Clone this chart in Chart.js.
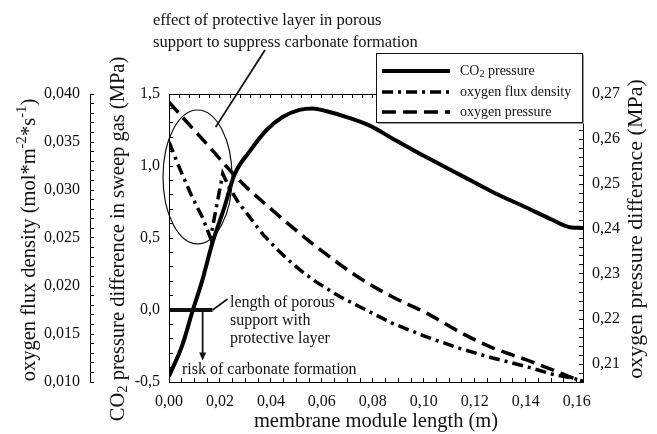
<!DOCTYPE html>
<html>
<head>
    <meta charset="utf-8" />
    <title>Membrane module profiles</title>
    <script src="https://cdn.jsdelivr.net/npm/chart.js"></script>
    <style>
        html, body { margin: 0; padding: 0; background: #fff; }
    </style>
</head>
<body>
    <canvas id="chart" width="657" height="434"></canvas>

    <script>
        // CO2 pressure difference in sweep gas (MPa) along the module
        const co2X = [0, 0.0053, 0.0092, 0.0128, 0.0171, 0.0215, 0.0257, 0.0316, 0.0383, 0.0446, 0.0512, 0.0564,
                      0.0619, 0.0697, 0.0788, 0.0878, 0.1011, 0.1141, 0.1270, 0.1404, 0.1506, 0.1573, 0.1625];
        const co2Y = [-0.46, -0.24, -0.01, 0.19, 0.47, 0.70, 0.94, 1.10, 1.25, 1.34, 1.39, 1.40,
                      1.38, 1.34, 1.28, 1.19, 1.06, 0.94, 0.82, 0.71, 0.625, 0.575, 0.57];

        // oxygen flux density (mol*m^-2*s^-1)
        const fluxX = [0, 0.0041, 0.0092, 0.0132, 0.0163, 0.0211, 0.0238, 0.0270, 0.0316, 0.0368, 0.0421, 0.0473,
                       0.0513, 0.0579, 0.0670, 0.0788, 0.0878, 0.1011, 0.1141, 0.1270, 0.1404, 0.1506, 0.1585, 0.1625];
        const fluxY = [0.0350, 0.0323, 0.0292, 0.0271, 0.0250, 0.0317, 0.0302, 0.0288, 0.0272, 0.0254, 0.0239, 0.0226,
                       0.0217, 0.0204, 0.0189, 0.0173, 0.0161, 0.0147, 0.0135, 0.0125, 0.0116, 0.0108, 0.0104, 0.0101];

        // oxygen pressure difference (MPa)
        const o2X = [0, 0.0092, 0.0159, 0.0238, 0.0304, 0.0383, 0.0473, 0.0564, 0.0748, 0.0878, 0.1011,
                     0.1141, 0.1270, 0.1404, 0.1506, 0.1585, 0.1625];
        const o2Y = [0.2682, 0.2624, 0.2582, 0.2531, 0.2493, 0.2453, 0.2409, 0.2367, 0.2291, 0.2249, 0.2213,
                     0.2171, 0.2136, 0.2109, 0.2087, 0.2069, 0.2062];

        // length of the porous support with protective layer (m)
        const layerLength = 0.0171;

        const serif = '"Liberation Serif", "Times New Roman", serif';
        const ink = '#111';

        function isMajor(v, step) {
            return Math.abs(v / step - Math.round(v / step)) < 1e-6;
        }
        function comma(v, d) {
            return v.toFixed(d).replace('.', ',');
        }
        function pts(xs, ys) {
            return xs.map((x, i) => ({x: x, y: ys[i]}));
        }

        // text with sub/superscript pieces
        function drawRich(ctx, parts, x, y, size, align) {
            let w = 0;
            parts.forEach(p => {
                ctx.font = (p.s ? size * 0.72 : size) + 'px ' + serif;
                p.w = ctx.measureText(p.t).width;
                w += p.w;
            });
            let cx = align === 'center' ? x - w / 2 : x;
            parts.forEach(p => {
                ctx.font = (p.s ? size * 0.72 : size) + 'px ' + serif;
                const dy = p.s === 'sup' ? -size * 0.38 : p.s === 'sub' ? size * 0.22 : 0;
                ctx.fillText(p.t, cx, y + dy);
                cx += p.w;
            });
        }
        function vTitle(ctx, parts, cx, cy, size) {
            ctx.save();
            ctx.translate(cx, cy);
            ctx.rotate(-Math.PI / 2);
            ctx.textBaseline = 'middle';
            drawRich(ctx, parts, 0, 0, size, 'center');
            ctx.restore();
        }

        const tickFont = {family: serif, size: 16};

        // titles, legend and the annotations of the figure
        const decorations = {
            id: 'decorations',
            afterDraw(chart) {
                const ctx = chart.ctx;
                const sx = chart.scales.x, sy = chart.scales.yCO2;
                ctx.save();
                ctx.fillStyle = ink;
                ctx.strokeStyle = ink;

                vTitle(ctx, [{t: 'oxygen flux density (mol*m'}, {t: '-2', s: 'sup'}, {t: '*s'}, {t: '-1', s: 'sup'}, {t: ')'}], 30, 240, 20.5);
                vTitle(ctx, [{t: 'CO'}, {t: '2', s: 'sub'}, {t: ' pressure difference in sweep gas (MPa)'}], 119, 239, 20.5);
                vTitle(ctx, [{t: 'oxygen pressure difference (MPa)'}], 636, 229, 22);

                // ellipse round the effect zone
                const ex = sx.getPixelForValue(0.0112), ey = sy.getPixelForValue(0.924);
                const rx = sx.getPixelForValue(0.0112 + 0.01355) - ex;
                const ry = ey - sy.getPixelForValue(0.924 + 0.465);
                ctx.lineWidth = 1.2;
                ctx.beginPath();
                ctx.ellipse(ex, ey, rx, ry, 0, 0, Math.PI * 2);
                ctx.stroke();

                // leader to the upper note
                ctx.lineWidth = 1.8;
                ctx.beginPath();
                ctx.moveTo(sx.getPixelForValue(0.0183), sy.getPixelForValue(1.27));
                ctx.lineTo(265, 50);
                ctx.stroke();

                // protective layer bar at zero
                const y0 = sy.getPixelForValue(0);
                const xe = sx.getPixelForValue(layerLength);
                ctx.lineWidth = 4;
                ctx.beginPath();
                ctx.moveTo(sx.getPixelForValue(0), y0);
                ctx.lineTo(xe, y0);
                ctx.stroke();
                ctx.lineWidth = 1.6;
                ctx.beginPath();
                ctx.moveTo(xe, y0);
                ctx.lineTo(xe + 15, y0 - 11);
                ctx.stroke();

                // arrow down to the risk note
                const ax = sx.getPixelForValue(0.0132);
                const ay = sy.getPixelForValue(-0.35);
                ctx.lineWidth = 1.8;
                ctx.beginPath();
                ctx.moveTo(ax, y0);
                ctx.lineTo(ax, ay - 6);
                ctx.stroke();
                ctx.beginPath();
                ctx.moveTo(ax - 3.5, ay - 8);
                ctx.lineTo(ax + 3.5, ay - 8);
                ctx.lineTo(ax, ay);
                ctx.closePath();
                ctx.fill();

                ctx.textBaseline = 'alphabetic';
                ctx.textAlign = 'left';
                ctx.font = '16.5px ' + serif;
                ctx.fillText('effect of protective layer in porous', 153, 25);
                ctx.fillText('support to suppress carbonate formation', 153, 47);
                ctx.font = '16px ' + serif;
                ctx.fillText('length of porous', 230, 307);
                ctx.fillText('support with', 230, 325);
                ctx.fillText('protective layer', 230, 343);
                ctx.fillText('risk of carbonate formation', 182, 374);

                // legend box
                const lx = 376, ly = 53, lw = 206, lh = 69;
                ctx.fillStyle = '#9a9a9a';
                ctx.fillRect(lx + 2, ly + 2, lw, lh);
                ctx.fillStyle = '#fff';
                ctx.fillRect(lx, ly, lw, lh);
                ctx.lineWidth = 1;
                ctx.strokeStyle = ink;
                ctx.strokeRect(lx + 0.5, ly + 0.5, lw, lh);

                const rows = [71, 92, 112];
                chart.data.datasets.forEach((ds, i) => {
                    ctx.save();
                    ctx.lineWidth = ds.borderWidth;
                    ctx.strokeStyle = ds.borderColor;
                    ctx.setLineDash(ds.borderDash || []);
                    ctx.beginPath();
                    ctx.moveTo(382, rows[i]);
                    ctx.lineTo(450, rows[i]);
                    ctx.stroke();
                    ctx.restore();
                });
                ctx.fillStyle = ink;
                ctx.textBaseline = 'middle';
                drawRich(ctx, [{t: 'CO'}, {t: '2', s: 'sub'}, {t: ' pressure'}], 460, rows[0], 14, 'left');
                drawRich(ctx, [{t: 'oxygen flux density'}], 460, rows[1], 14, 'left');
                drawRich(ctx, [{t: 'oxygen pressure'}], 460, rows[2], 14, 'left');

                ctx.restore();
            }
        };

        const axisBorder = {display: true, color: '#000', width: 1};

        new Chart(document.getElementById('chart'), {
            type: 'line',
            data: {
                datasets: [
                    {
                        label: 'CO2 pressure',
                        data: pts(co2X, co2Y),
                        yAxisID: 'yCO2',
                        borderColor: '#000',
                        borderWidth: 4,
                        cubicInterpolationMode: 'monotone',
                        pointRadius: 0
                    },
                    {
                        label: 'oxygen flux density',
                        data: pts(fluxX, fluxY),
                        yAxisID: 'yFlux',
                        borderColor: '#000',
                        borderWidth: 3.5,
                        borderDash: [11, 5, 3, 5],
                        tension: 0,
                        pointRadius: 0
                    },
                    {
                        label: 'oxygen pressure',
                        data: pts(o2X, o2Y),
                        yAxisID: 'yO2',
                        borderColor: '#000',
                        borderWidth: 3.5,
                        borderDash: [14, 7],
                        cubicInterpolationMode: 'monotone',
                        pointRadius: 0
                    }
                ]
            },
            options: {
                responsive: false,
                animation: false,
                layout: {padding: {top: 94, left: 0, right: 0, bottom: 0}},
                plugins: {legend: {display: false}, tooltip: {enabled: false}},
                scales: {
                    x: {
                        type: 'linear', position: 'bottom', min: 0, max: 0.1625,
                        ticks: {
                            stepSize: 0.005, includeBounds: false, autoSkip: false, maxRotation: 0,
                            padding: 14, color: ink, font: tickFont,
                            callback: v => isMajor(v, 0.02) ? comma(v, 2) : ''
                        },
                        grid: {drawOnChartArea: false, tickLength: -4, color: '#000'},
                        border: axisBorder,
                        title: {display: true, text: 'membrane module length (m)', color: ink,
                                font: {family: serif, size: 20.5}, padding: 0},
                        afterFit: s => { s.height = 52; }
                    },
                    xTop: {
                        type: 'linear', position: 'top', min: 0, max: 0.1625,
                        ticks: {stepSize: 0.004, includeBounds: false, autoSkip: false, callback: () => ''},
                        grid: {drawOnChartArea: false, tickLength: -4, color: '#000'},
                        border: axisBorder,
                        afterFit: s => { s.height = 0; }
                    },
                    yFlux: {
                        type: 'linear', position: 'left', weight: 2, min: 0.010, max: 0.040,
                        ticks: {
                            stepSize: 0.001, autoSkip: false, padding: 14, color: ink, font: tickFont,
                            callback: v => isMajor(v, 0.005) ? comma(v, 3) : ''
                        },
                        grid: {drawOnChartArea: false, tickLength: -4, color: '#000'},
                        border: axisBorder,
                        afterFit: s => { s.width = 90; }
                    },
                    yCO2: {
                        type: 'linear', position: 'left', weight: 1, min: -0.5, max: 1.5,
                        ticks: {
                            stepSize: 0.1, autoSkip: false, padding: 13, color: ink, font: tickFont,
                            callback: v => isMajor(v, 0.5) ? comma(v, 1) : ''
                        },
                        grid: {drawOnChartArea: false, tickLength: -4, color: '#000'},
                        border: axisBorder,
                        afterFit: s => { s.width = 79; }
                    },
                    yO2: {
                        type: 'linear', position: 'right', min: 0.206, max: 0.27,
                        ticks: {
                            stepSize: 0.002, autoSkip: false, padding: 13, color: ink, font: tickFont,
                            callback: v => isMajor(v, 0.01) ? comma(v, 2) : ''
                        },
                        grid: {drawOnChartArea: false, tickLength: -4, color: '#000'},
                        border: axisBorder,
                        afterFit: s => { s.width = 74; }
                    }
                }
            },
            plugins: [decorations]
        });
    </script>
</body>
</html>
